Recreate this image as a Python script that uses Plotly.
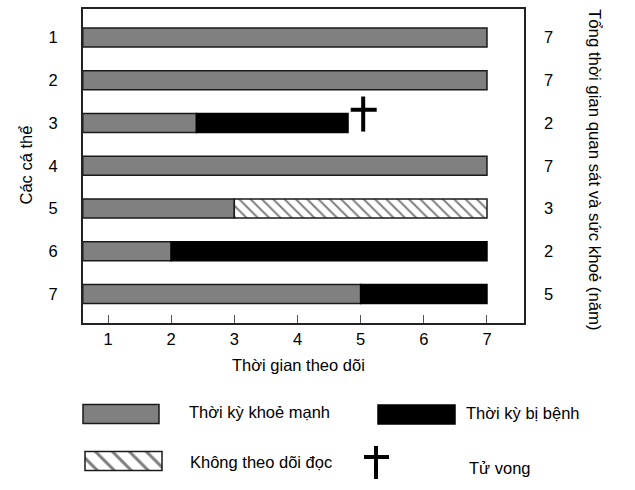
import plotly.graph_objects as go

W, H = 635, 490

# ---------------- data ----------------
individuals = [1, 2, 3, 4, 5, 6, 7]
totals = [7, 7, 2, 7, 3, 2, 5]
obs_start = 0.6
healthy_end = [7, 7, 2.4, 7, 3, 2, 5]
sick_ind = [3, 6, 7]
sick_start = [2.4, 2, 5]
sick_end = [4.8, 7, 7]
lost_ind = [5]
lost_start = [3]
lost_end = [7]
death_ind = [3]
death_time = [5.04]
x_ticks = [1, 2, 3, 4, 5, 6, 7]

FONT = "Arial, 'Liberation Sans', sans-serif"
FS = 16.5
GRAY = "#808080"
EDGE = "#1a1a1a"
BAR_W = 0.445


def px(x):
    return x / W


def py(y):
    return 1 - y / H


fig = go.Figure()

# healthy
fig.add_trace(go.Bar(
    orientation="h", y=individuals,
    x=[e - obs_start for e in healthy_end], base=[obs_start] * len(individuals),
    width=BAR_W, marker=dict(color=GRAY, line=dict(color=EDGE, width=1.5)),
    showlegend=False, hoverinfo="skip"))
# sick
fig.add_trace(go.Bar(
    orientation="h", y=sick_ind,
    x=[e - s for s, e in zip(sick_start, sick_end)], base=sick_start,
    width=BAR_W, marker=dict(color="black", line=dict(color="black", width=1.5)),
    showlegend=False, hoverinfo="skip"))
# lost to follow-up
fig.add_trace(go.Bar(
    orientation="h", y=lost_ind,
    x=[e - s for s, e in zip(lost_start, lost_end)], base=lost_start,
    width=BAR_W,
    marker=dict(color="white",
                pattern=dict(shape="\\", size=8, solidity=0.25,
                             fgcolor="black", bgcolor="white"),
                line=dict(color=EDGE, width=1.5)),
    showlegend=False, hoverinfo="skip"))
# death crosses
cx, cy = [], []
for ind, t in zip(death_ind, death_time):
    cx += [t, t, None, t - 0.198, t + 0.214, None]
    cy += [ind - 0.62, ind + 0.2, None, ind - 0.31, ind - 0.31, None]
fig.add_trace(go.Scatter(x=cx, y=cy, mode="lines",
                         line=dict(color="black", width=4),
                         showlegend=False, hoverinfo="skip", cliponaxis=False))
# invisible trace on right axis
fig.add_trace(go.Scatter(x=[None], y=[None], yaxis="y2", showlegend=False,
                         hoverinfo="skip"))

# ---------------- legend (drawn on a pixel-unit helper axis) ----------------
leg_items = [
    dict(x0=83, x1=159, yc=414, h=19, kind="healthy"),
    dict(x0=378, x1=455, yc=414.5, h=19, kind="sick"),
    dict(x0=85, x1=162, yc=461, h=19, kind="lost"),
]
for it in leg_items:
    if it["kind"] == "healthy":
        mk = dict(color=GRAY, line=dict(color=EDGE, width=1.5))
    elif it["kind"] == "sick":
        mk = dict(color="black", line=dict(color="black", width=1.5))
    else:
        mk = dict(color="white",
                  pattern=dict(shape="\\", size=12, solidity=0.25,
                               fgcolor="black", bgcolor="white"),
                  line=dict(color=EDGE, width=1.5))
    fig.add_trace(go.Bar(orientation="h", y=[it["yc"]], x=[it["x1"] - it["x0"]],
                         base=[it["x0"]], width=it["h"], marker=mk,
                         xaxis="x3", yaxis="y3", showlegend=False,
                         hoverinfo="skip"))
fig.add_trace(go.Scatter(x=[376, 376, None, 364, 389], y=[446, 479, None, 457, 457],
                         mode="lines", line=dict(color="black", width=4),
                         xaxis="x3", yaxis="y3", showlegend=False,
                         hoverinfo="skip", cliponaxis=False))

ann = []


def add_text(text, x, y, xanchor="center", angle=0, size=FS):
    ann.append(dict(text=text, x=px(x), y=py(y), xref="paper", yref="paper",
                    xanchor=xanchor, yanchor="middle", showarrow=False,
                    textangle=angle, font=dict(family=FONT, size=size, color="black")))


add_text("Thời gian theo dõi", 298, 365)
add_text("Các cá thể", 25.5, 165, angle=-90)
add_text("Tổng thời gian quan sát và sức khoẻ (năm)", 594, 170, angle=90, size=16.8)
add_text("Thời kỳ khoẻ mạnh", 187, 412, xanchor="left")
add_text("Thời kỳ bị bệnh", 464, 413, xanchor="left")
add_text("Không theo dõi đọc", 188, 462, xanchor="left")
add_text("Tử vong", 467, 468, xanchor="left")

y_range = [7.678, 0.333]
fig.update_layout(
    width=W, height=H,
    margin=dict(l=0, r=0, t=0, b=0),
    paper_bgcolor="white", plot_bgcolor="white",
    barmode="overlay",
    font=dict(family=FONT, size=FS, color="black"),
    xaxis=dict(domain=[px(83), px(524)], range=[0.604, 7.586],
               tickvals=x_ticks, ticks="inside", ticklen=8, tickwidth=1,
               tickcolor="#555", showline=True, mirror=True, linecolor="#222",
               linewidth=2, showgrid=False, zeroline=False, anchor="y",
               tickfont=dict(size=FS), ticklabelstandoff=0),
    yaxis=dict(domain=[py(323), py(9)], range=y_range, tickvals=individuals,
               ticks="", showline=True, mirror=True, linecolor="#222",
               linewidth=2, showgrid=False, zeroline=False, anchor="x",
               tickfont=dict(size=FS), ticklabelstandoff=20),
    yaxis2=dict(overlaying="y", side="right", anchor="x", range=y_range,
                tickvals=individuals, ticktext=[str(t) for t in totals],
                showline=False, showgrid=False, zeroline=False, ticks="",
                tickfont=dict(size=FS), ticklabelstandoff=19),
    xaxis3=dict(domain=[0, 1], range=[0, W], visible=False, anchor="y3",
                fixedrange=True),
    yaxis3=dict(domain=[0, py(390)], range=[H, 390], visible=False,
                anchor="x3", fixedrange=True),
    annotations=ann,
)

fig.write_html("out.html")
